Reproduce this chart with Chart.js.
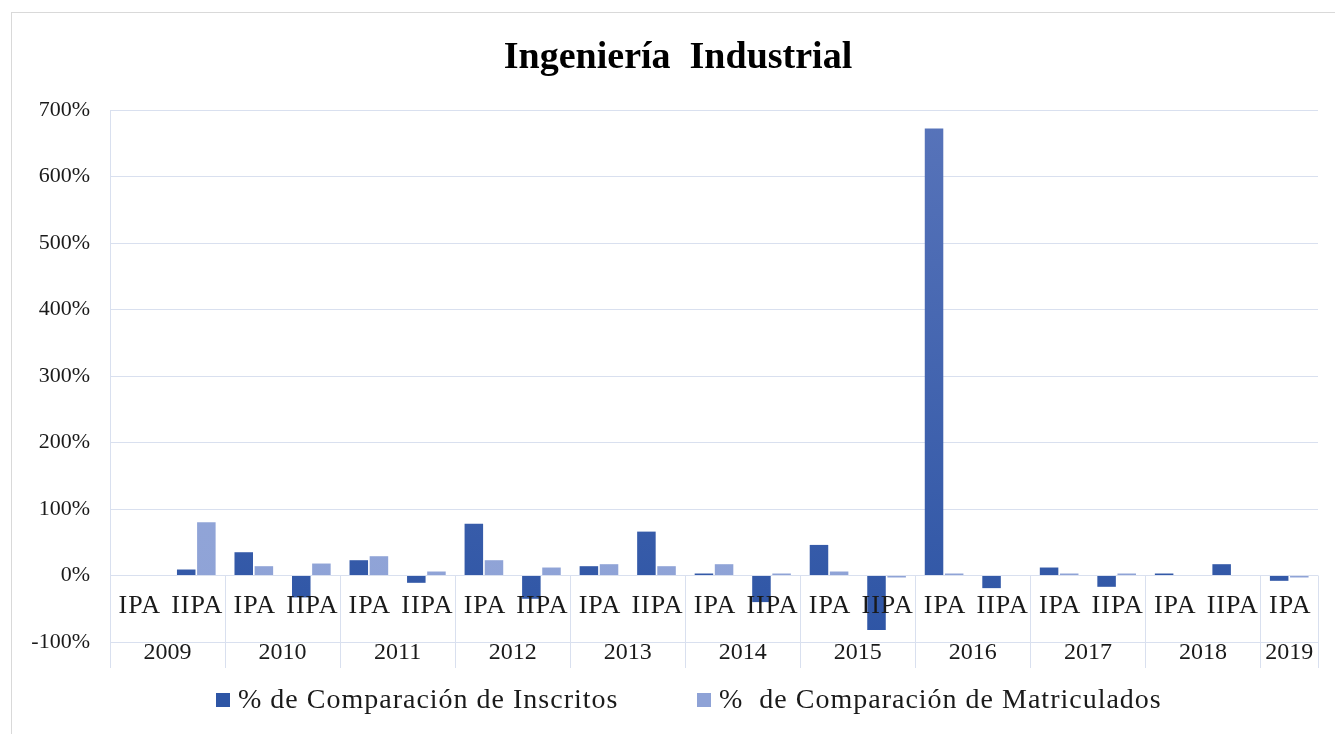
<!DOCTYPE html>
<html>
<head>
<meta charset="utf-8">
<script src="https://cdn.jsdelivr.net/npm/chart.js@4.4.1/dist/chart.umd.min.js"></script>
<style>
  html, body { margin: 0; padding: 0; background: #fff; }
  canvas { display: block; }
</style>
</head>
<body>
<canvas id="chart" width="1335" height="734"></canvas>
<script>
// Data
const periods = ["IPA", "IIPA", "IPA", "IIPA", "IPA", "IIPA", "IPA", "IIPA", "IPA", "IIPA", "IPA",
                 "IIPA", "IPA", "IIPA", "IPA", "IIPA", "IPA", "IIPA", "IPA", "IIPA", "IPA"];
const categoryYears = ["2009", "2009", "2010", "2010", "2011", "2011", "2012", "2012", "2013", "2013", "2014",
                       "2014", "2015", "2015", "2016", "2016", "2017", "2017", "2018", "2018", "2019"];
const inscritos = [null, 9, 35, -33, 23, -11, 78, -35, 14, 66, 3, -40, 46, -82, 672, -19, 12, -17, 3, 17, -8];
const matriculados = [null, 80, 14, 18, 29, 6, 23, 12, 17, 14, 17, 3, 6, -3, 3, 0, 3, 3, 0, 0, -3];
const yTicks = [-100, 0, 100, 200, 300, 400, 500, 600, 700];

const serif = '"Liberation Serif", "Times New Roman", serif';
const darkBlue = "#2E55A5";
const lightBlue = "#8EA2D6";
const gridColor = "#D9E0EF";

// Bars get a slightly lighter top, like the original
function barGradient(ctx, top, bottom) {
  const g = ctx.createLinearGradient(0, 110, 0, 642);
  g.addColorStop(0, top);
  g.addColorStop(1, bottom);
  return g;
}

// Draws the title, the two-level category axis and the legend
const decorations = {
  id: "decorations",
  afterDatasetsDraw(chart) {
    const { ctx, chartArea, scales } = chart;
    const x = scales.x, y = scales.y;
    const step = x.getPixelForValue(1) - x.getPixelForValue(0);
    const zeroY = y.getPixelForValue(0);
    const axisBottom = 668;

    ctx.save();
    // outer frame
    ctx.strokeStyle = "#D9D9D9";
    ctx.lineWidth = 1;
    ctx.strokeRect(11.5, 12.5, 1340, 740);

    // title
    ctx.fillStyle = "#000";
    ctx.font = "bold 38px " + serif;
    ctx.textAlign = "center";
    ctx.textBaseline = "alphabetic";
    ctx.fillText("Ingeniería  Industrial", 678, 68);

    // left axis line
    ctx.strokeStyle = gridColor;
    ctx.beginPath();
    ctx.moveTo(Math.round(chartArea.left) + 0.5, chartArea.top);
    ctx.lineTo(Math.round(chartArea.left) + 0.5, axisBottom);
    ctx.stroke();

    // year dividers
    ctx.beginPath();
    for (let i = 0; i <= categoryYears.length; i++) {
      if (i === 0 || i === categoryYears.length || categoryYears[i] !== categoryYears[i - 1]) {
        const px = Math.round(x.getPixelForValue(i) - step / 2) + 0.5;
        ctx.moveTo(px, zeroY);
        ctx.lineTo(px, axisBottom);
      }
    }
    ctx.stroke();

    // period labels
    ctx.fillStyle = "#1a1a1a";
    ctx.font = "26px " + serif;
    ctx.letterSpacing = "1px";
    ctx.textAlign = "center";
    ctx.textBaseline = "middle";
    periods.forEach((p, i) => ctx.fillText(p, x.getPixelForValue(i) + 1, 606));

    // year labels centred on their group
    ctx.font = "24px " + serif;
    ctx.letterSpacing = "0px";
    let start = 0;
    for (let i = 1; i <= categoryYears.length; i++) {
      if (i === categoryYears.length || categoryYears[i] !== categoryYears[start]) {
        const cx = (x.getPixelForValue(start) + x.getPixelForValue(i - 1)) / 2;
        ctx.fillText(categoryYears[start], cx, 653);
        start = i;
      }
    }

    // legend
    const items = [
      { label: chart.data.datasets[0].label, color: darkBlue, x: 216 },
      { label: chart.data.datasets[1].label, color: lightBlue, x: 697 }
    ];
    ctx.font = "28px " + serif;
    ctx.letterSpacing = "1px";
    ctx.textAlign = "left";
    items.forEach(it => {
      ctx.fillStyle = it.color;
      ctx.fillRect(it.x, 693, 14, 14);
      ctx.fillStyle = "#1a1a1a";
      ctx.fillText(it.label, it.x + 22, 701);
    });
    ctx.restore();
  }
};

const ctx = document.getElementById("chart").getContext("2d");
new Chart(ctx, {
  type: "bar",
  data: {
    labels: periods,
    datasets: [{
      label: "% de Comparación de Inscritos",
      data: inscritos,
      backgroundColor: barGradient(ctx, "#5874BA", darkBlue)
    }, {
      label: "%  de Comparación de Matriculados",
      data: matriculados,
      backgroundColor: barGradient(ctx, "#98ABDB", lightBlue)
    }]
  },
  options: {
    responsive: false,
    animation: false,
    categoryPercentage: 0.7,
    barPercentage: 0.92,
    layout: { padding: { left: 0, right: 17, top: 110, bottom: 92 } },
    plugins: {
      legend: { display: false },
      title: { display: false },
      tooltip: { enabled: false }
    },
    scales: {
      x: { display: false },
      y: {
        min: -100,
        max: 700,
        afterFit(scale) { scale.width = 110; },
        afterBuildTicks(scale) { scale.ticks = yTicks.map(v => ({ value: v })); },
        ticks: {
          padding: 20,
          color: "#1a1a1a",
          font: { family: serif, size: 22 },
          callback: v => v + "%"
        },
        grid: { color: gridColor, drawTicks: false },
        border: { display: false }
      }
    }
  },
  plugins: [decorations]
});
</script>
</body>
</html>
